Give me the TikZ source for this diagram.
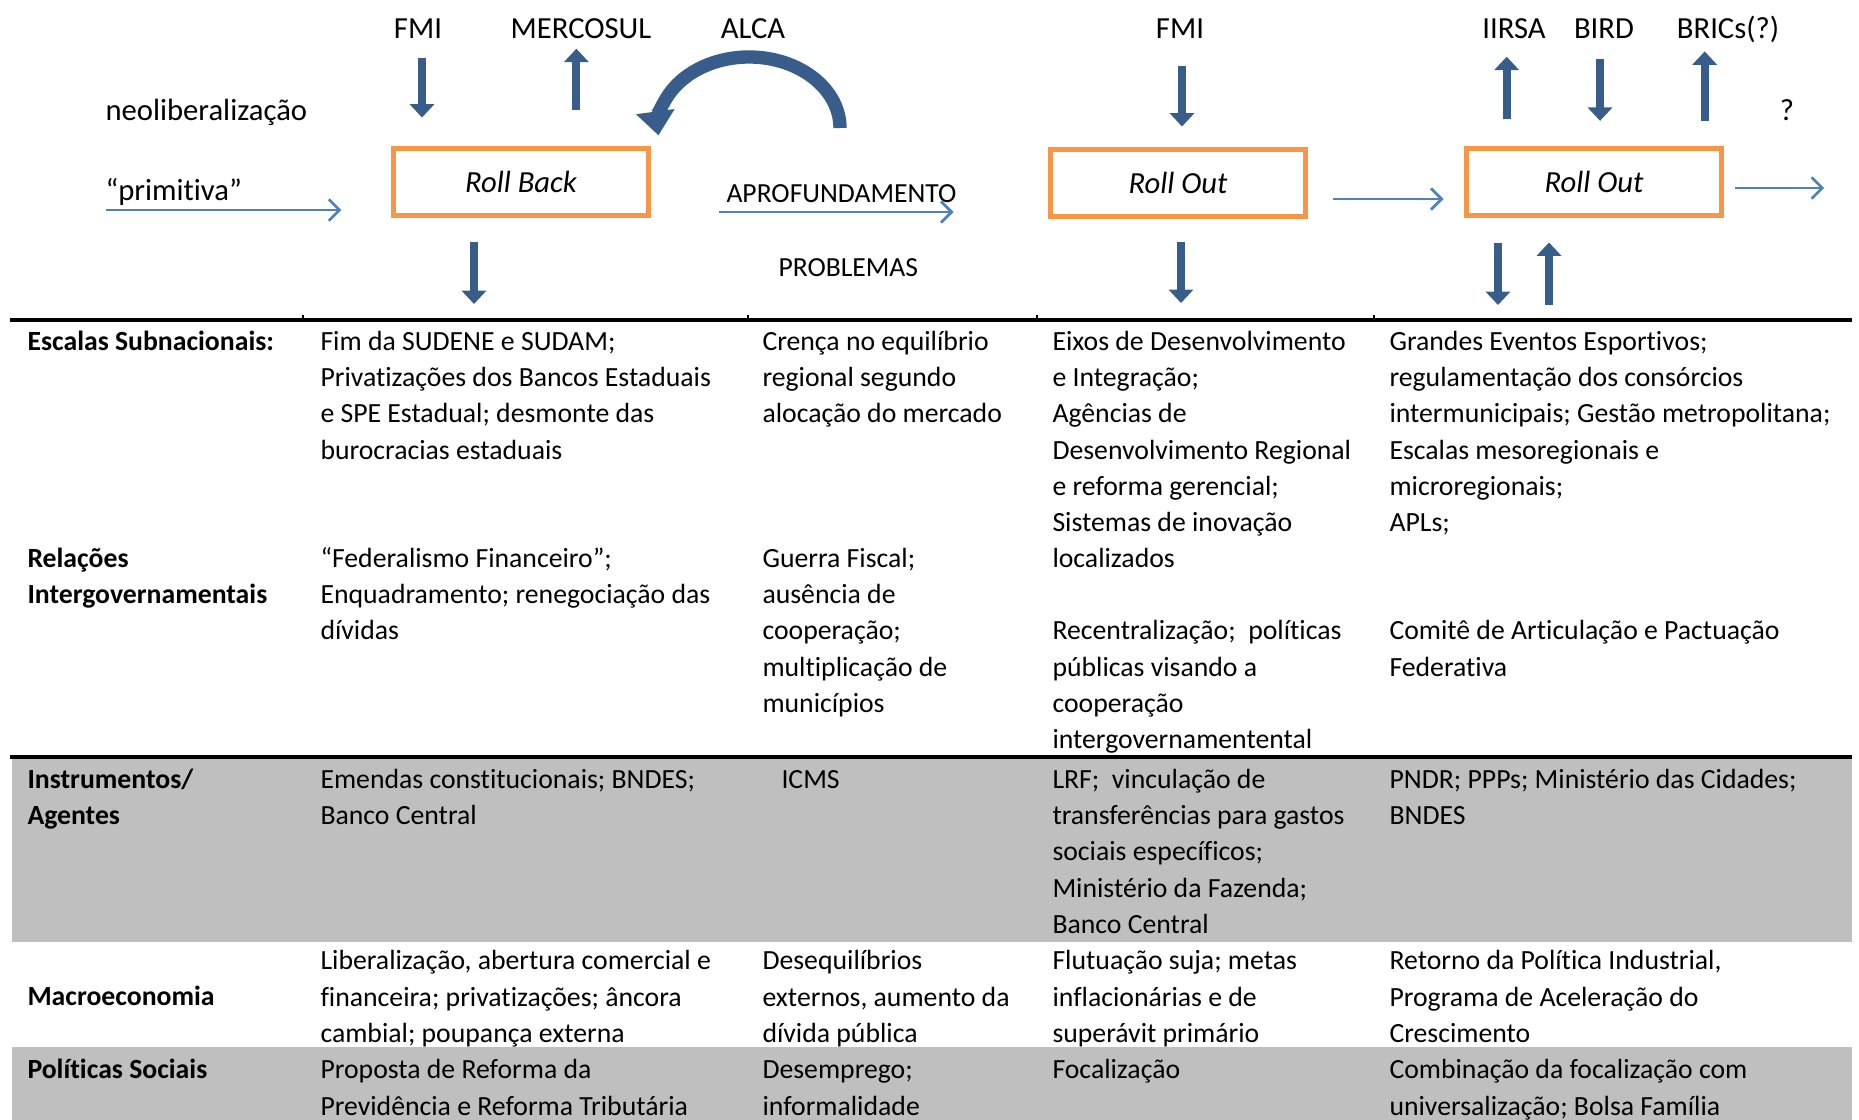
\documentclass[tikz,border=0pt]{standalone}
\usepackage{fontspec}
\setmainfont{Carlito}[Ligatures={TeX,NoCommon}]
\usetikzlibrary{arrows.meta}
\definecolor{boxorange}{RGB}{247,150,70}
\definecolor{darkblue}{RGB}{56,93,138}
\definecolor{lightblue}{RGB}{79,129,189}
\definecolor{cellgray}{RGB}{191,191,191}
\newcommand{\toplabel}{\fontsize{23}{28}\selectfont}
\newcommand{\midlabel}{\fontsize{20.7}{25}\selectfont}
\newcommand{\cellfont}{\fontsize{20.8}{27.15}\selectfont}
\tikzset{every picture/.style={line width=0.75pt}}
\tikzset{
  rollbox/.style={draw=boxorange, line width=3.75pt, minimum width=191pt, minimum height=50pt, inner sep=0pt, font=\toplabel\itshape},
  toplbl/.style={anchor=base, inner sep=0.75pt, font=\toplabel},
  blockarrow/.style={draw=darkblue, line width=6pt, -{Triangle[width=18pt,length=10pt]}},
  curvearrow/.style={draw=darkblue, line width=10pt, -{Triangle[width=28pt,length=18pt]}},
  thinarrow/.style={draw=lightblue, line width=2pt, -{Straight Barb[length=8pt,width=16pt]}},
  cell/.style={anchor=north west, inner sep=0.75pt, align=left, font=\cellfont},
  rowhead/.style={cell, font=\cellfont\bfseries},
}

\begin{document}
\begin{tikzpicture}[x=0.75pt,y=0.75pt,yscale=-1,xscale=1]
\useasboundingbox (0,0) rectangle (1859,1120);

%Shape: gray bands
\fill[cellgray] (12,757) rectangle (1852,942);
\fill[cellgray] (12,1047) rectangle (1852,1120);
%Straight Lines: table rules
\draw[line width=3pt] (10,320) -- (1852,320);
\draw[line width=3pt] (10,757) -- (1852,757);
\foreach \x in {303,748,1037,1374} \draw[line width=1pt] (\x,315) -- (\x,320);

%Shape: boxes
\node[rollbox] (rollback) at (521,182) {Roll Back};
\node[rollbox] (rollout) at (1178,183) {Roll Out};
\node[rollbox] (rolloutb) at (1594,182) {Roll Out};

% Text Node: top labels
\node[toplbl] (fmi) at (418,39) {FMI};
\node[toplbl] (mercosul) at (581,39) {MERCOSUL};
\node[toplbl] (alca) at (753,39) {ALCA};
\node[toplbl] (fmib) at (1180,39) {FMI};
\node[toplbl] (iirsa) at (1514,39) {IIRSA};
\node[toplbl] (bird) at (1604,39) {BIRD};
\node[toplbl] (brics) at (1728,39) {BRICs(?)};
\node[toplbl] (quest) at (1787,121) {?};
\node[toplbl, anchor=base west] (neo) at (104,121) {neoliberalização};
\node[toplbl, anchor=base west] (prim) at (104,200) {“primitiva”};
\node[anchor=base west, inner sep=0.75pt, font=\midlabel] (aprof) at (725,202) {APROFUNDAMENTO};
\node[anchor=base west, inner sep=0.75pt, font=\midlabel] (probl) at (777,276) {PROBLEMAS};

%Block arrows
\draw[blockarrow, shorten <=13.5pt, shorten >=21.5pt] ([xshift=3pt]fmi.south) -- ([xshift=3pt]fmi.south |- rollback.north);
\draw[blockarrow, shorten <=26.8pt, shorten >=6pt] ([xshift=-3.5pt]mercosul.south |- rollback.north) -- ([xshift=-3.5pt]mercosul.south);
\draw[blockarrow, shorten <=19.5pt, shorten >=15.5pt] ([xshift=1.5pt]fmib.south) -- ([xshift=1.5pt]fmib.south |- rollout.north);
\draw[blockarrow, shorten <=20pt, shorten >=12pt] ([xshift=-5.5pt]iirsa.south |- rolloutb.north) -- ([xshift=-5.5pt]iirsa.south);
\draw[blockarrow, shorten <=14pt, shorten >=19pt] ([xshift=-3pt]bird.south) -- ([xshift=-3pt]bird.south |- rolloutb.north);
\draw[blockarrow, shorten <=18.5pt, shorten >=5pt] ([xshift=-17.5pt]brics.south |- rolloutb.north) -- ([xshift=-17.5pt]brics.south);
\coordinate (rbdown) at (474,304);
\coordinate (rodown) at (1181,303);
\coordinate (robdown) at (1498,305);
\coordinate (robup) at (1549,305);
\draw[blockarrow, shorten <=18pt] (rollback.south -| rbdown) -- (rbdown);
\draw[blockarrow, shorten <=17pt] (rollout.south -| rodown) -- (rodown);
\draw[blockarrow, shorten <=19pt] (rolloutb.south -| robdown) -- (robdown);
\draw[blockarrow, shorten >=18.5pt] (robup) -- (rolloutb.south -| robup);
%Curve Lines: ALCA
\coordinate (alcastart) at (840,128);
\draw[curvearrow] (alcastart) arc[start angle=0, end angle=-186, x radius=91, y radius=71];

%Thin arrows
\coordinate (primstart) at (106,210);
\draw[thinarrow, shorten >=37.3pt] (primstart) -- (primstart -| rollback.west);
\draw[thinarrow, shorten <=50.8pt, shorten >=71pt] ([yshift=22.5pt]rollback.east) -- ([yshift=22.5pt]rollback.east -| rollout.west);
\draw[thinarrow, shorten <=19pt, shorten >=15.5pt] ([yshift=12pt]rollout.east) -- ([yshift=12pt]rollout.east -| rolloutb.west);
\coordinate (outend) at (1824,188);
\draw[thinarrow, shorten <=8pt] (rolloutb.east |- outend) -- (outend);

% Text Node: Escalas Subnacionais
\node[rowhead] (escH) at (26,323.6) {\strut Escalas Subnacionais:};
\node[cell] (escA) at (319,323.6) {\strut Fim da SUDENE e SUDAM;\\Privatizações dos Bancos Estaduais\\e SPE Estadual; desmonte das\\burocracias estaduais};
\node[cell] (escB) at (761,323.6) {\strut Crença no equilíbrio\\regional segundo\\alocação do mercado};
\node[cell] (escC) at (1051,323.6) {\strut Eixos de Desenvolvimento\\e Integração;\\Agências de\\Desenvolvimento Regional\\e reforma gerencial;\\Sistemas de inovação\\localizados};
\node[cell] (escD) at (1388,323.6) {\strut Grandes Eventos Esportivos;\\regulamentação dos consórcios\\intermunicipais; Gestão metropolitana;\\Escalas mesoregionais e\\microregionais;\\APLs;};
% Text Node: Relações Intergovernamentais
\node[rowhead] (relH) at (26,540.6) {\strut Relações\\Intergovernamentais};
\node[cell] (relA) at (319,540.6) {\strut “Federalismo Financeiro”;\\Enquadramento; renegociação das\\dívidas};
\node[cell] (relB) at (761,540.6) {\strut Guerra Fiscal;\\ausência de\\cooperação;\\multiplicação de\\municípios};
\node[cell] (relC) at (1051,613) {\strut Recentralização;~ políticas\\públicas visando a\\cooperação\\intergovernamentental};
\node[cell] (relD) at (1388,613) {\strut Comitê de Articulação e Pactuação\\Federativa};
% Text Node: Instrumentos/Agentes
\node[rowhead] (insH) at (26,761.6) {\strut Instrumentos/\\Agentes};
\node[cell] (insA) at (319,761.6) {\strut Emendas constitucionais; BNDES;\\Banco Central};
\node[cell] (insB) at (780,761.6) {\strut ICMS};
\node[cell] (insC) at (1051,761.6) {\strut LRF;~ vinculação de\\transferências para gastos\\sociais específicos;\\Ministério da Fazenda;\\Banco Central};
\node[cell] (insD) at (1388,761.6) {\strut PNDR; PPPs; Ministério das Cidades;\\BNDES};
% Text Node: Macroeconomia
\node[rowhead] (macH) at (26,979) {\strut Macroeconomia};
\node[cell] (macA) at (319,943.1) {\strut Liberalização, abertura comercial e\\financeira; privatizações; âncora\\cambial; poupança externa};
\node[cell] (macB) at (761,943.1) {\strut Desequilíbrios\\externos, aumento da\\dívida pública};
\node[cell] (macC) at (1051,943.1) {\strut Flutuação suja; metas\\inflacionárias e de\\superávit primário};
\node[cell] (macD) at (1388,943.1) {\strut Retorno da Política Industrial,\\Programa de Aceleração do\\Crescimento};
% Text Node: Políticas Sociais
\node[rowhead] (polH) at (26,1052) {\strut Políticas Sociais};
\node[cell] (polA) at (319,1052) {\strut Proposta de Reforma da\\Previdência e Reforma Tributária};
\node[cell] (polB) at (761,1052) {\strut Desemprego;\\informalidade};
\node[cell] (polC) at (1051,1052) {\strut Focalização};
\node[cell] (polD) at (1388,1052) {\strut Combinação da focalização com\\universalização; Bolsa Família};

\end{tikzpicture}
\end{document}
